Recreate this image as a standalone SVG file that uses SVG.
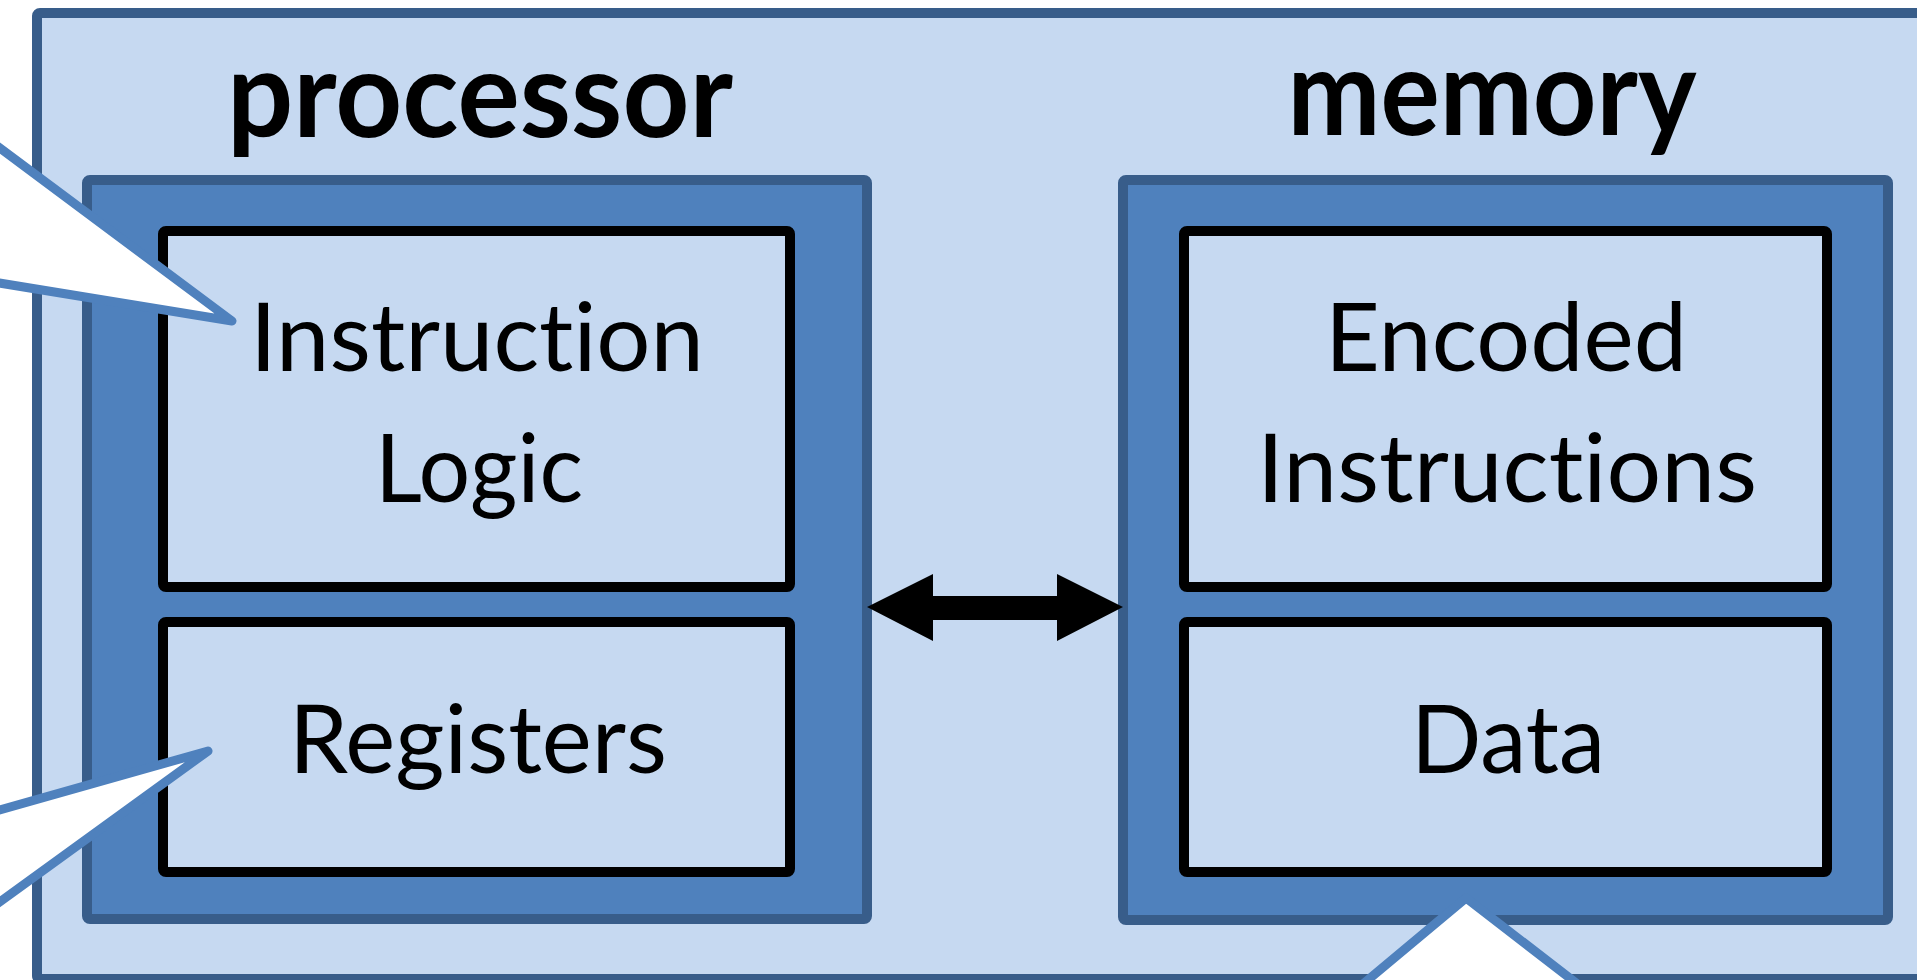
<svg xmlns="http://www.w3.org/2000/svg" width="1917" height="980" viewBox="0 0 1917 980">
<style>
.outer{fill:#C6D9F1;stroke:#385D8A;stroke-width:10}
.unit{fill:#4F81BD;stroke:#385D8A;stroke-width:10}
.inner{fill:#C6D9F1;stroke:#000;stroke-width:10}
text{font-variant-ligatures:none;font-feature-settings:"liga" 0,"clig" 0,"dlig" 0}
.title{font-family:Lato,"Open Sans","Liberation Sans",sans-serif;font-weight:bold;font-size:120px;fill:#000;text-anchor:middle}
.lbl{font-family:Lato,"Open Sans","Liberation Sans",sans-serif;font-size:95px;fill:#000;text-anchor:middle}
.callout{fill:#fff;stroke:#4F81BD;stroke-width:9;stroke-linejoin:round}
</style>
<g id="system">
<rect class="outer" x="37" y="13" width="1950" height="966" rx="3"/>
</g>
<g id="processor">
<rect class="unit" x="87" y="180" width="780" height="739" rx="3"/>
<text class="title" x="480" y="137" textLength="506" lengthAdjust="spacingAndGlyphs">processor</text>
</g>
<g id="memory">
<rect class="unit" x="1123" y="180" width="765" height="740" rx="3"/>
<text class="title" x="1492" y="135" textLength="409" lengthAdjust="spacingAndGlyphs">memory</text>
</g>
<g id="instruction-logic">
<rect class="inner" x="163" y="231" width="627" height="356" rx="3"/>
<text class="lbl" x="477" y="371" textLength="454" lengthAdjust="spacingAndGlyphs">Instruction</text>
<text class="lbl" x="479" y="502" textLength="208" lengthAdjust="spacingAndGlyphs">Logic</text>
</g>
<g id="registers">
<rect class="inner" x="163" y="622" width="627" height="250" rx="3"/>
<text class="lbl" x="478" y="773" textLength="378" lengthAdjust="spacingAndGlyphs">Registers</text>
</g>
<g id="encoded-instructions">
<rect class="inner" x="1184" y="231" width="643" height="356" rx="3"/>
<text class="lbl" x="1506" y="371" textLength="362" lengthAdjust="spacingAndGlyphs">Encoded</text>
<text class="lbl" x="1507" y="502" textLength="500" lengthAdjust="spacingAndGlyphs">Instructions</text>
</g>
<g id="data">
<rect class="inner" x="1184" y="622" width="643" height="250" rx="3"/>
<text class="lbl" x="1508" y="773" textLength="194" lengthAdjust="spacingAndGlyphs">Data</text>
</g>
<g id="connectors">
<polygon points="867,607 933,574 933,596 1057,596 1057,574 1123,607 1057,641 1057,620 933,620 933,641" fill="#000"/>
</g>
<g id="callouts">
<path class="callout" d="M -50 111 L 232 321 L -50 275 Z"/>
<path class="callout" d="M -50 824 L 208 751 L -50 938 Z"/>
<path class="callout" d="M 1308 1030 L 1466 898 L 1637 1030 Z"/>
</g>
</svg>
